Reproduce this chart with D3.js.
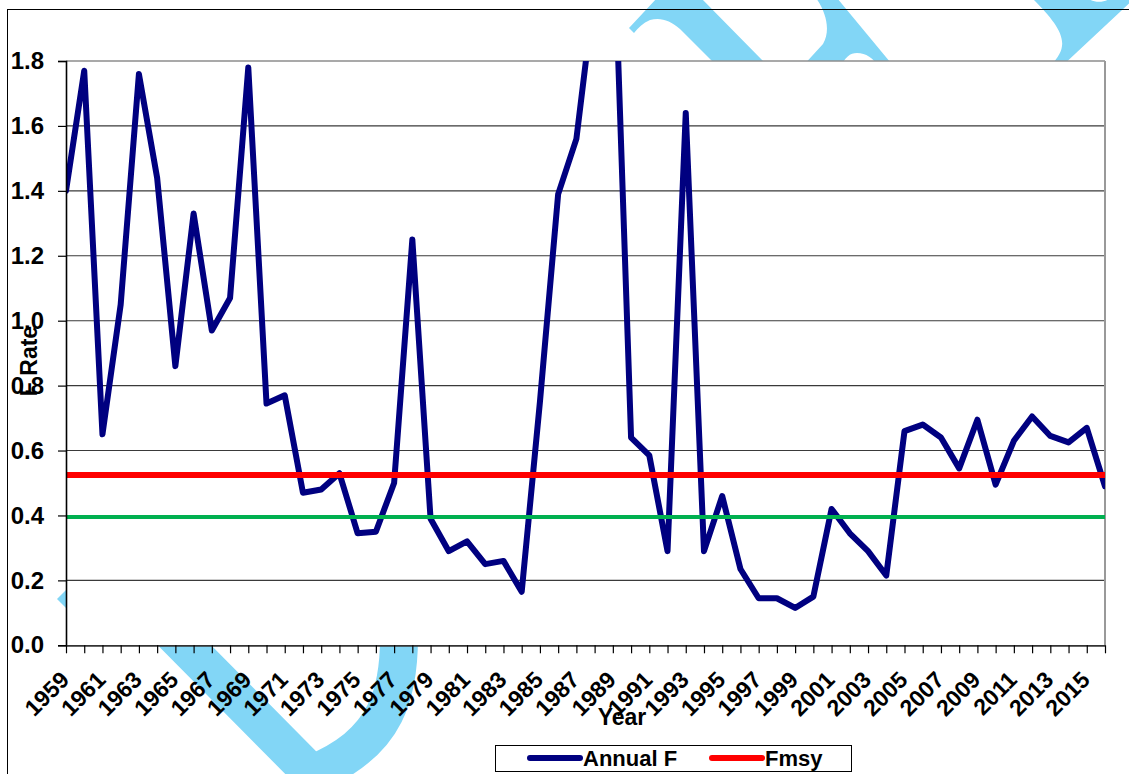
<!DOCTYPE html>
<html>
<head>
<meta charset="utf-8">
<script src="https://cdn.jsdelivr.net/npm/d3@7"></script>
<style>
  html, body { margin: 0; padding: 0; background: #fff; }
  svg { display: block; }
  text { font-family: "Liberation Sans", Arial, sans-serif; font-weight: bold; fill: #000; }
</style>
</head>
<body>
<svg id="chart" width="1129" height="774"></svg>
<script>
// ---- data ----
const years = [1959,1960,1961,1962,1963,1964,1965,1966,1967,1968,
               1969,1970,1971,1972,1973,1974,1975,1976,1977,1978,
               1979,1980,1981,1982,1983,1984,1985,1986,1987,1988,
               1989,1990,1991,1992,1993,1994,1995,1996,1997,1998,
               1999,2000,2001,2002,2003,2004,2005,2006,2007,2008,
               2009,2010,2011,2012,2013,2014,2015,2016];
const annualF = [1.40,1.77,0.65,1.05,1.76,1.44,0.86,1.33,0.97,1.07,
                 1.78,0.745,0.77,0.47,0.48,0.53,0.345,0.35,0.50,1.25,
                 0.39,0.29,0.32,0.25,0.26,0.165,0.75,1.39,1.56,2.02,
                 2.29,0.64,0.585,0.29,1.64,0.29,0.46,0.235,0.145,0.145,
                 0.115,0.15,0.42,0.345,0.29,0.215,0.66,0.68,0.64,0.545,
                 0.695,0.495,0.63,0.705,0.645,0.625,0.67,0.49];
const fmsyValue = [0.525];
const greenRefValue = [0.395];
const yTicks = [0.0,0.2,0.4,0.6,0.8,1.0,1.2,1.4,1.6,1.8];
const xLabelYears = years.filter((y, i) => i % 2 === 0);
const legendItems = ["Annual F", "Fmsy"];
const xTitle = "Year";
const yTitle = "F Rate";

// ---- layout ----
const svg = d3.select("#chart");
const L = 66, R = 1105, T = 61, B = 645.3;
const x = d3.scalePoint().domain(years).range([L, R]);
const y = d3.scaleLinear().domain([0, 1.8]).range([B, T]);

// ---- decorative watermark (behind the chart) ----
const wm = svg.append("g").attr("fill", "#82D6F6");
wm.append("path").attr("d", "M57,599 L74,582 L74,616 Z");
wm.append("path").attr("d", "M100,560 L312,774 C382,745 407,700 397,600")
  .attr("fill", "none").attr("stroke", "#82D6F6").attr("stroke-width", 38);
wm.append("path").attr("d", "M629,28 L657,-2 L701,-2 L770,68 L719,68 L680,29 C670,20 660,17 650,20 C643,23 638,28 634,33 Z");
wm.append("path").attr("d", "M816,-2 C826,12 831,30 823,44 L801,68 L840,68 C845,57 850,53 857,53 C866,53 873,58 880,68 L895,68 L837,-2 Z");
wm.append("path").attr("d", "M1032,-2 C1050,16 1064,32 1062,46 C1061,54 1056,60 1048,68 L1060,68 L1135,-2 L1110,-2 C1106,3 1092,3 1088,-2 Z");

// ---- outer frame ----
svg.append("rect").attr("x", 7.5).attr("y", 9.5).attr("width", 1300).attr("height", 900)
  .attr("fill", "none").attr("stroke", "#000").attr("stroke-width", 1);

// ---- plot area ----
svg.append("rect").attr("x", L).attr("y", T).attr("width", R - L).attr("height", B - T)
  .attr("fill", "#fff");

// gridlines
svg.append("g").selectAll("line").data(yTicks.filter(d => d > 0)).join("line")
  .attr("x1", L).attr("x2", R).attr("y1", d => y(d)).attr("y2", d => y(d))
  .attr("stroke", d => d === 1.8 ? "#8c8c8c" : "#3a3a3a").attr("stroke-width", d => d === 1.8 ? 1.6 : 1.1);

// plot border (right side)
svg.append("line").attr("x1", R).attr("x2", R).attr("y1", T).attr("y2", B)
  .attr("stroke", "#999").attr("stroke-width", 2);

// clip
svg.append("clipPath").attr("id", "plotclip").append("rect")
  .attr("x", L).attr("y", T).attr("width", R - L).attr("height", B - T);

// Annual F line
const line = d3.line().x((d, i) => x(years[i])).y(d => y(d));
svg.append("path").datum(annualF).attr("clip-path", "url(#plotclip)")
  .attr("d", line).attr("fill", "none").attr("stroke", "#000080")
  .attr("stroke-width", 6).attr("stroke-linejoin", "round").attr("stroke-linecap", "round");

// Fmsy line
svg.append("g").selectAll("line").data(fmsyValue).join("line")
  .attr("x1", L).attr("x2", R).attr("y1", d => y(d)).attr("y2", d => y(d))
  .attr("stroke", "#ff0000").attr("stroke-width", 6);

// green reference line
svg.append("g").selectAll("line").data(greenRefValue).join("line")
  .attr("x1", L).attr("x2", R).attr("y1", d => y(d)).attr("y2", d => y(d))
  .attr("stroke", "#00b050").attr("stroke-width", 4);

// ---- axes ----
const yAxis = svg.append("g").attr("transform", `translate(${L},0)`)
  .call(d3.axisLeft(y).tickValues(yTicks).tickFormat(d3.format(".1f")).tickSize(8).tickPadding(14));
yAxis.select(".domain").attr("stroke", "#000").attr("stroke-width", 1.6);
yAxis.selectAll(".tick line").attr("stroke", "#000").attr("stroke-width", 1.2);
yAxis.selectAll(".tick text").attr("font-size", 24).attr("font-family", "Liberation Sans, Arial, sans-serif")
  .attr("font-weight", "bold").attr("fill", "#000");

const xAxis = svg.append("g").attr("transform", `translate(0,${B})`)
  .call(d3.axisBottom(x).tickSize(8).tickSizeOuter(0)
    .tickFormat(d => xLabelYears.includes(d) ? String(d) : ""));
xAxis.select(".domain").attr("stroke", "#333").attr("stroke-width", 1.8);
xAxis.selectAll(".tick line").attr("stroke", "#000").attr("stroke-width", 1.2);
xAxis.selectAll(".tick text")
  .attr("font-size", 23).attr("font-family", "Liberation Sans, Arial, sans-serif")
  .attr("font-weight", "bold").attr("fill", "#000")
  .attr("text-anchor", "end").attr("dy", null).attr("y", null)
  .attr("transform", "translate(4,36) rotate(-45)");

// axis titles
svg.append("text").attr("x", 622).attr("y", 725).attr("text-anchor", "middle")
  .attr("font-size", 23).text(xTitle);
svg.append("text").attr("transform", "translate(37,361) rotate(-90)").attr("text-anchor", "middle")
  .attr("font-size", 23).text(yTitle);

// ---- legend ----
const lg = svg.append("g");
lg.append("rect").attr("x", 495.5).attr("y", 745.5).attr("width", 356).attr("height", 26)
  .attr("fill", "#fff").attr("stroke", "#000").attr("stroke-width", 1);
const legendColors = ["#000080", "#ff0000"];
const legendX = [530, 712];
legendItems.forEach((name, i) => {
  lg.append("line").attr("x1", legendX[i]).attr("x2", legendX[i] + 50).attr("y1", 758).attr("y2", 758)
    .attr("stroke", legendColors[i]).attr("stroke-width", 6).attr("stroke-linecap", "round");
  lg.append("text").attr("x", legendX[i] + 53).attr("y", 766).attr("font-size", 22).text(name);
});
</script>
</body>
</html>
